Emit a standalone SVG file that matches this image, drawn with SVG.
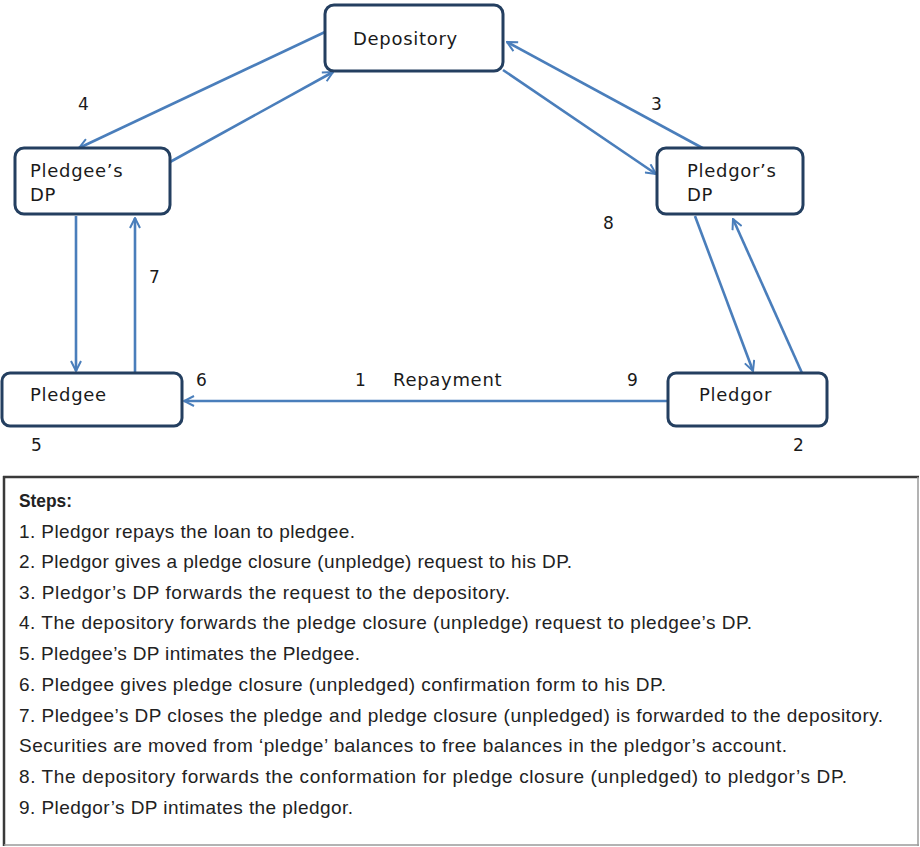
<svg xmlns="http://www.w3.org/2000/svg" width="920" height="847" viewBox="0 0 920 847">
<style>
.node{fill:#ffffff;stroke:#243f60;stroke-width:3}
.nl{font-family:"DejaVu Sans",Verdana,sans-serif;font-size:18px;letter-spacing:0.7px;fill:#1a1a1a}
.num{font-family:"DejaVu Sans",Verdana,sans-serif;font-size:17px;fill:#1a1a1a}
.conn{fill:none;stroke:#4a7ebb;stroke-width:2.6}
.st{font-family:"Liberation Sans",Arial,sans-serif;font-size:19px;fill:#222}
</style>
<defs>
<marker id="ah" viewBox="0 0 12 12" refX="11" refY="6" markerWidth="12" markerHeight="12" markerUnits="userSpaceOnUse" orient="auto">
<path d="M1,1 L11,6 L1,11" fill="none" stroke="#4a7ebb" stroke-width="2"/>
</marker>
</defs>
<rect width="920" height="847" fill="#ffffff"/>

<g id="connectors">
<line class="conn" x1="325" y1="32" x2="79" y2="148" marker-end="url(#ah)"/>
<line class="conn" x1="170" y1="162" x2="333" y2="72" marker-end="url(#ah)"/>
<line class="conn" x1="708" y1="151" x2="507" y2="42" marker-end="url(#ah)"/>
<line class="conn" x1="503" y1="70" x2="656" y2="174" marker-end="url(#ah)"/>
<line class="conn" x1="76" y1="216" x2="76" y2="371" marker-end="url(#ah)"/>
<line class="conn" x1="135" y1="372" x2="135" y2="218" marker-end="url(#ah)"/>
<line class="conn" x1="695" y1="216" x2="753" y2="371" marker-end="url(#ah)"/>
<line class="conn" x1="802" y1="373" x2="733" y2="219" stroke-width="2.2" marker-end="url(#ah)"/>
<line class="conn" x1="668" y1="401" x2="184" y2="401" marker-end="url(#ah)"/>
</g>

<g id="depository">
<rect class="node" x="325" y="5" width="178" height="66" rx="9"/>
<text class="nl" x="353" y="45">Depository</text>
</g>
<g id="pledgees-dp">
<rect class="node" x="15" y="148" width="155" height="66" rx="9"/>
<text class="nl" x="30" y="177">Pledgee’s</text>
<text class="nl" x="30" y="201">DP</text>
</g>
<g id="pledgors-dp">
<rect class="node" x="657" y="148" width="146" height="66" rx="9"/>
<text class="nl" x="687" y="177">Pledgor’s</text>
<text class="nl" x="687" y="201">DP</text>
</g>
<g id="pledgee">
<rect class="node" x="2" y="373" width="180" height="53" rx="8"/>
<text class="nl" x="30" y="401">Pledgee</text>
</g>
<g id="pledgor">
<rect class="node" x="668" y="373" width="159" height="53" rx="8"/>
<text class="nl" x="699" y="401">Pledgor</text>
</g>

<g id="labels">
<text class="num" x="78" y="110">4</text>
<text class="num" x="651" y="110">3</text>
<text class="num" x="603" y="229">8</text>
<text class="num" x="149" y="283">7</text>
<text class="num" x="196" y="386">6</text>
<text class="num" x="355" y="386">1</text>
<text class="nl" x="393" y="386" font-size="17">Repayment</text>
<text class="num" x="627" y="386">9</text>
<text class="num" x="793" y="451">2</text>
<text class="num" x="31" y="451">5</text>
</g>

<g id="steps">
<rect x="4" y="477" width="914" height="368" fill="#ffffff" stroke="none"/>
<line x1="3" y1="477" x2="919" y2="477" stroke="#3a3a3a" stroke-width="2.5"/>
<line x1="4" y1="476" x2="4" y2="846" stroke="#3a3a3a" stroke-width="2.5"/>
<line x1="918" y1="477" x2="918" y2="846" stroke="#9a9a9a" stroke-width="1.5"/>
<line x1="4" y1="845" x2="919" y2="845" stroke="#9a9a9a" stroke-width="1.5"/>
<text class="st" x="19" y="507" font-weight="bold" textLength="53" lengthAdjust="spacingAndGlyphs">Steps:</text>
<text class="st" x="19" y="538" textLength="336" lengthAdjust="spacing">1. Pledgor repays the loan to pledgee.</text>
<text class="st" x="19" y="568" textLength="553" lengthAdjust="spacing">2. Pledgor gives a pledge closure (unpledge) request to his DP.</text>
<text class="st" x="19" y="599" textLength="491" lengthAdjust="spacing">3. Pledgor’s DP forwards the request to the depository.</text>
<text class="st" x="19" y="629" textLength="733" lengthAdjust="spacing">4. The depository forwards the pledge closure (unpledge) request to pledgee’s DP.</text>
<text class="st" x="19" y="660" textLength="341" lengthAdjust="spacing">5. Pledgee’s DP intimates the Pledgee.</text>
<text class="st" x="19" y="691" textLength="647" lengthAdjust="spacing">6. Pledgee gives pledge closure (unpledged) confirmation form to his DP.</text>
<text class="st" x="19" y="722" textLength="864" lengthAdjust="spacing">7. Pledgee’s DP closes the pledge and pledge closure (unpledged) is forwarded to the depository.</text>
<text class="st" x="19" y="752" textLength="768" lengthAdjust="spacing">Securities are moved from ‘pledge’ balances to free balances in the pledgor’s account.</text>
<text class="st" x="19" y="783" textLength="828" lengthAdjust="spacing">8. The depository forwards the conformation for pledge closure (unpledged) to pledgor’s DP.</text>
<text class="st" x="19" y="814" textLength="334" lengthAdjust="spacing">9. Pledgor’s DP intimates the pledgor.</text>
</g>
</svg>
